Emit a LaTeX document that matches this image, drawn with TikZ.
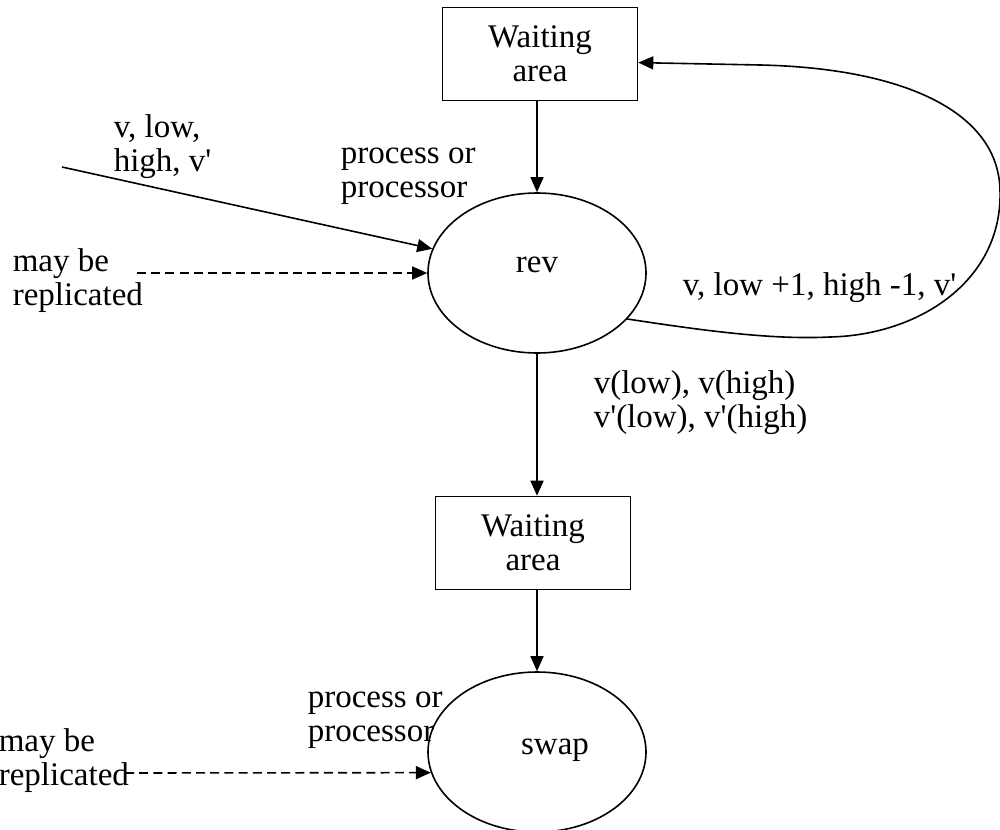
\documentclass[tikz,border=0pt]{standalone}
\usepackage{fontspec}
\setmainfont{Liberation Serif}
\usetikzlibrary{arrows.meta,shapes.geometric}
\newcommand{\pr}{\textquotesingle}
\begin{document}
\begin{tikzpicture}[x=0.5pt,y=-0.5pt,
  font=\fontsize{16.5}{17}\selectfont,
  line width=0.8pt,
  >={Triangle[length=7.5pt,width=6.5pt]},
  area/.style={draw,rectangle,minimum width=97.5pt,minimum height=46.5pt,inner sep=0pt,align=center},
  proc/.style={draw,ellipse,minimum width=109pt,minimum height=80pt,inner sep=0pt},
  lbl/.style={align=left,inner sep=0pt,anchor=west},
  dashedarrow/.style={->,dash pattern=on 4.5pt off 2.6pt}]
\useasboundingbox (0,0) rectangle (1000,829);

% waiting areas and processes
\node[area] (wa1) at (540,54) {Waiting\\area};
\node[proc] (rev) at (537,273) {};
\node (revtxt) at (537,265) {rev};
\node[area] (wa2) at (533,543) {Waiting\\area};
\node[proc] (swap) at (537,752) {};
\node (swaptxt) at (555,750) {swap};

% free ends of the incoming connectors
\coordinate (in1) at (62,167);
\coordinate (rep1) at (137,273);
\coordinate (rep2) at (125,773);

% connectors
\draw[->] (wa1.south -| rev.north) -- (rev.north);
\draw[->] (in1) -- (rev.167);
\draw[dashedarrow] (rep1) -- (rev.west);
\draw[->] (rev.south) -- (rev.south |- wa2.north);
\draw[->] (wa2.south -| swap.north) -- (swap.north);
\draw[dashedarrow] (rep2) -- (swap.191.3);
\draw[->] (rev.-27) .. controls (700,330) and (770,340) .. (830,337)
  .. controls (920,335) and (1003,280) .. (1000,190)
  .. controls (998,110) and (900,68) .. (760,65) -- (wa1.-5);

% labels
\node[lbl] (l1) at (113,147) {v, low,\\high, v\pr};
\node[lbl] (l2) at (340,176) {process or\\processor};
\node[lbl] (l3) at (12,281) {may be\\replicated};
\node[lbl] (l4) at (682,288) {v, low +1, high -1, v\pr};
\node[lbl] (l5) at (593,403) {v(low), v(high)\\v\pr(low), v\pr(high)};
\node[lbl] (l6) at (307,720) {process or\\processor};
\node[lbl] (l7) at (-2,761) {may be\\replicated};
\end{tikzpicture}
\end{document}
